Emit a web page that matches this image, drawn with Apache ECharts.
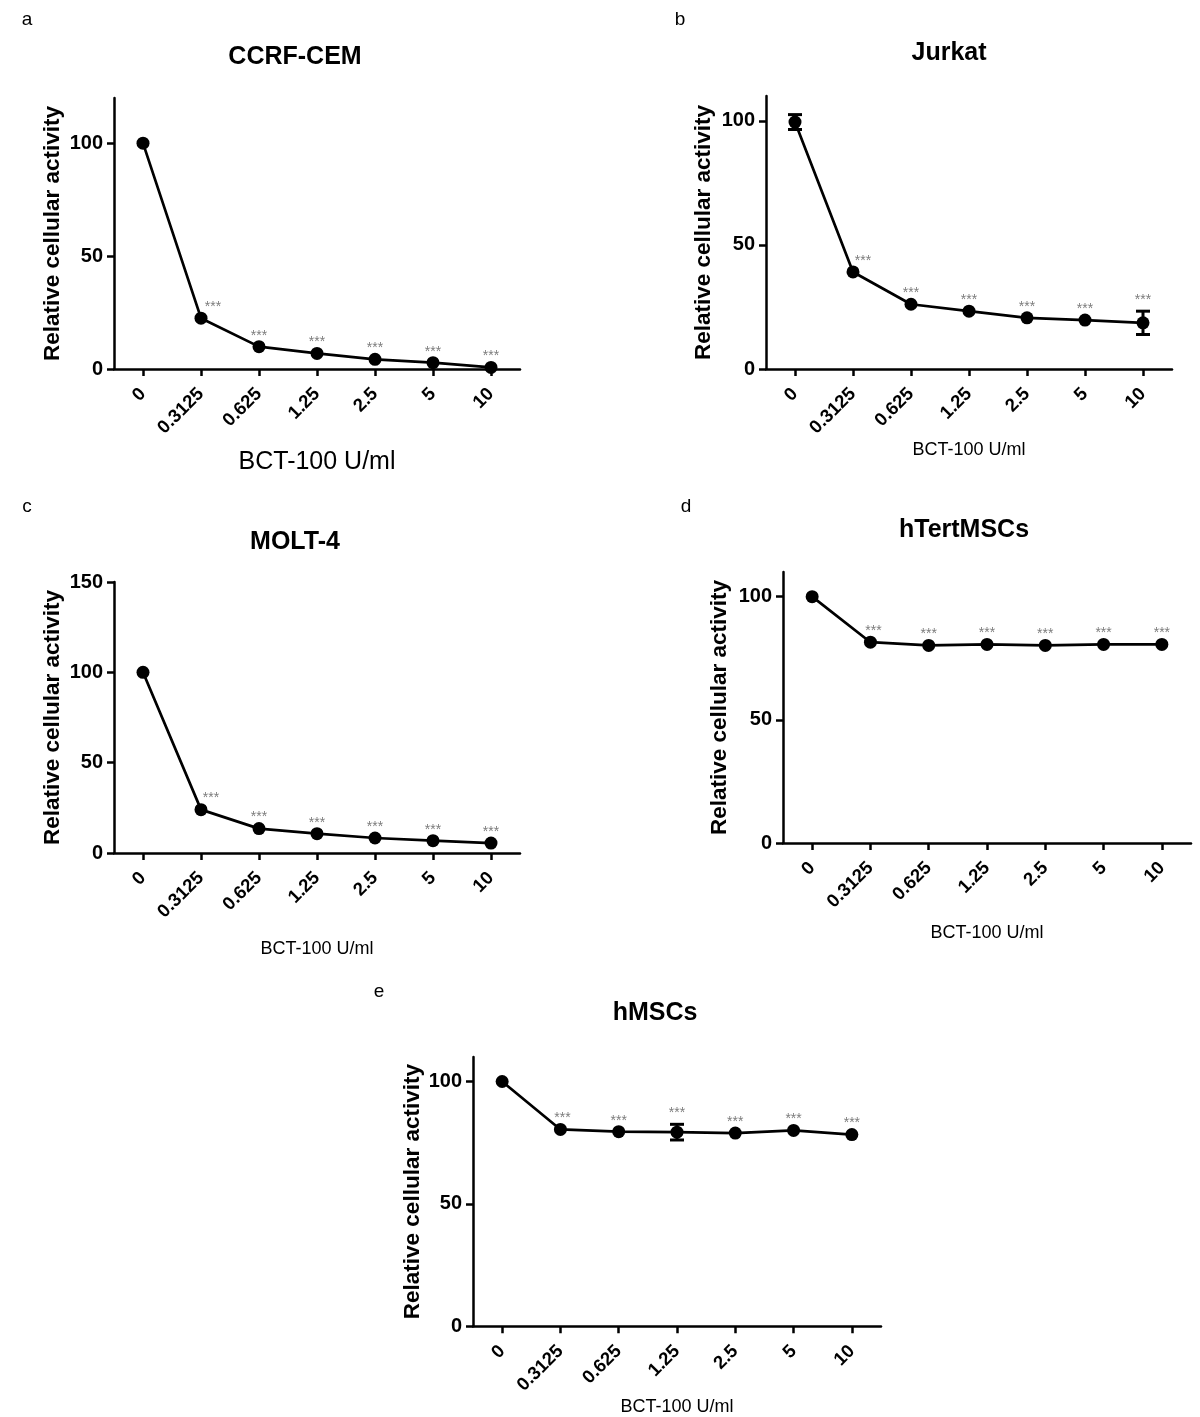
<!DOCTYPE html>
<html><head><meta charset="utf-8">
<script src="https://cdn.jsdelivr.net/npm/echarts@6/dist/echarts.min.js"></script>
<style>html,body{margin:0;padding:0;background:#fff}#c{width:1200px;height:1417px}</style>
</head><body><div id="c"></div>
<script>
// ---- data ----
const categories = ['0', '0.3125', '0.625', '1.25', '2.5', '5', '10'];
const yTicksStd = [0, 50, 100];
const yTicksMolt = [0, 50, 100, 150];
const ccrfValues   = [100, 22.5, 9.9, 6.9, 4.3, 2.8, 0.7];
const ccrfErr      = [0, 0, 0, 0, 0, 0, 0];
const jurkatValues = [99.5, 39.1, 26.1, 23.3, 20.6, 19.7, 18.6];
const jurkatErr    = [3, 0, 0, 0, 0, 0, 4.7];
const moltValues   = [100, 24.0, 13.5, 10.7, 8.3, 6.8, 5.5];
const moltErr      = [0, 0, 0, 0, 0, 0, 0];
const htertValues  = [100, 81.5, 80.2, 80.6, 80.2, 80.6, 80.6];
const htertErr     = [0, 0, 0, 0, 0, 0, 0];
const hmscValues   = [100, 80.4, 79.5, 79.3, 78.9, 80.0, 78.3];
const hmscErr      = [0, 0, 0, 3.2, 0, 0, 0];
const significance = ['', '***', '***', '***', '***', '***', '***'];
const panelTitles  = ['CCRF-CEM', 'Jurkat', 'MOLT-4', 'hTertMSCs', 'hMSCs'];
const panelLetters = ['a', 'b', 'c', 'd', 'e'];
const yMaxes       = [120, 110, 150, 110, 110];
const xAxisName = 'BCT-100 U/ml';
const yAxisName = 'Relative cellular activity';

// ---- layout / style ----
const FONT = '"Liberation Sans", Arial, sans-serif';
const panels = [
  {values: ccrfValues,   err: ccrfErr,   ticks: yTicksStd,  grid: {left: 114, top: 98,   width: 406, height: 271}, xNameGap: 81, xNameSize: 25, yNameGap: 50, title: [295, 57],  letter: [27, 20],   starDx: 12},
  {values: jurkatValues, err: jurkatErr, ticks: yTicksStd,  grid: {left: 766, top: 96,   width: 406, height: 273}, xNameGap: 71, xNameSize: 18, yNameGap: 51, title: [949, 53],  letter: [680, 20],  starDx: 10},
  {values: moltValues,   err: moltErr,   ticks: yTicksMolt, grid: {left: 114, top: 582,  width: 406, height: 271}, xNameGap: 87, xNameSize: 18, yNameGap: 50, title: [295, 542], letter: [27, 507],  starDx: 10},
  {values: htertValues,  err: htertErr,  ticks: yTicksStd,  grid: {left: 783, top: 572,  width: 408, height: 271}, xNameGap: 81, xNameSize: 18, yNameGap: 52, title: [964, 530], letter: [686, 507], starDx: 3},
  {values: hmscValues,   err: hmscErr,   ticks: yTicksStd,  grid: {left: 473, top: 1057, width: 408, height: 270}, xNameGap: 66, xNameSize: 18, yNameGap: 49, title: [655, 1013],letter: [379, 992], starDx: 2}
];

function errRender(params, api) {
  const x = api.value(0), y = api.value(1), e = api.value(2);
  if (!e) return null;
  const t = api.coord([x, y + e]);
  const b = api.coord([x, y - e]);
  const hw = 7;
  const st = {stroke: '#000', lineWidth: 3};
  return {type: 'group', children: [
    {type: 'line', shape: {x1: t[0], y1: t[1], x2: b[0], y2: b[1]}, style: st},
    {type: 'line', shape: {x1: t[0] - hw, y1: t[1], x2: t[0] + hw, y2: t[1]}, style: st},
    {type: 'line', shape: {x1: b[0] - hw, y1: b[1], x2: b[0] + hw, y2: b[1]}, style: st}
  ]};
}

const grids = [], xAxes = [], yAxes = [], series = [], graphics = [];
panels.forEach((p, k) => {
  grids.push(Object.assign({containLabel: false}, p.grid));
  xAxes.push({
    type: 'category', gridIndex: k, data: categories, boundaryGap: true,
    axisLine: {show: true, lineStyle: {color: '#000', width: 2.5}},
    axisTick: {show: true, alignWithLabel: true, length: 7, lineStyle: {color: '#000', width: 2.5}},
    axisLabel: {rotate: 45, margin: 22, fontSize: 18.5, fontWeight: 'bold', color: '#000', fontFamily: FONT, interval: 0},
    splitLine: {show: false},
    name: xAxisName, nameLocation: 'middle', nameGap: p.xNameGap,
    nameTextStyle: {fontSize: p.xNameSize, color: '#000', fontFamily: FONT}
  });
  yAxes.push({
    type: 'value', gridIndex: k, min: 0, max: yMaxes[k], interval: 50,
    axisLine: {show: true, lineStyle: {color: '#000', width: 2.5}},
    axisTick: {show: true, length: 7, customValues: p.ticks, lineStyle: {color: '#000', width: 2.5}},
    axisLabel: {customValues: p.ticks, margin: 11, fontSize: 20, fontWeight: 'bold', color: '#000', fontFamily: FONT},
    splitLine: {show: false},
    name: yAxisName, nameLocation: 'middle', nameGap: p.yNameGap,
    nameTextStyle: {fontSize: 22.5, fontWeight: 'bold', color: '#000', fontFamily: FONT}
  });
  series.push({
    type: 'custom', xAxisIndex: k, yAxisIndex: k, renderItem: errRender,
    data: categories.map((c, i) => [i, p.values[i], p.err[i]]),
    encode: {x: 0, y: 1}, z: 2, silent: true
  });
  series.push({
    type: 'line', xAxisIndex: k, yAxisIndex: k,
    data: p.values,
    symbol: 'circle', symbolSize: 13, showSymbol: true,
    lineStyle: {color: '#000', width: 2.7},
    itemStyle: {color: '#000'}, z: 3, silent: true
  });
  series.push({
    type: 'scatter', xAxisIndex: k, yAxisIndex: k, symbolSize: 0, z: 4, silent: true,
    data: categories.map((c, i) => significance[i] ? {
      value: [i, p.values[i] + p.err[i]],
      label: {offset: [i === 1 ? p.starDx : 0, 0]}
    } : null).filter(d => d),
    label: {show: true, position: 'top', distance: 4, formatter: () => '***',
      fontSize: 14, color: '#5a5a5a', fontFamily: FONT}
  });
  graphics.push({type: 'text', x: p.title[0], y: p.title[1],
    style: {text: panelTitles[k], font: 'bold 25px ' + FONT, fill: '#000', textAlign: 'center', textVerticalAlign: 'middle'}});
  graphics.push({type: 'text', x: p.letter[0], y: p.letter[1],
    style: {text: panelLetters[k], font: '19px ' + FONT, fill: '#000', textAlign: 'center', textVerticalAlign: 'middle'}});
});

const chart = echarts.init(document.getElementById('c'), null, {renderer: 'canvas'});
chart.setOption({
  animation: false,
  backgroundColor: '#fff',
  textStyle: {fontFamily: FONT},
  grid: grids, xAxis: xAxes, yAxis: yAxes, series: series, graphic: graphics
});
</script></body></html>
